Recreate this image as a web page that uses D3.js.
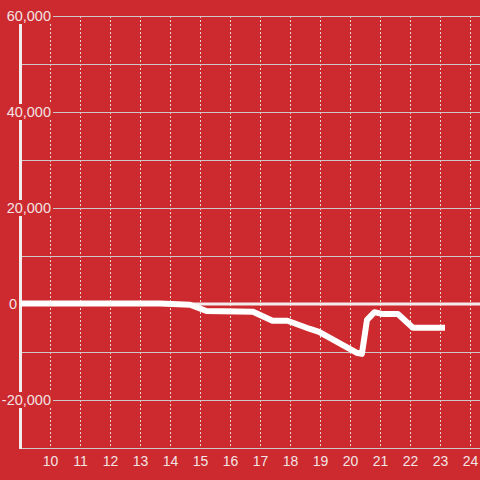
<!DOCTYPE html>
<html><head><meta charset="utf-8">
<script src="https://cdn.jsdelivr.net/npm/d3@7"></script>
<style>html,body{margin:0;padding:0;background:#cc2a2f;}svg{display:block;}</style>
</head><body>
<svg id="c" width="480" height="480"></svg>
<script>
const xValues = [9.0, 13.65, 14.65, 15.2, 16.75, 17.4, 17.9, 18.65, 18.95, 20.2, 20.38, 20.55, 20.8, 21.08, 21.58, 22.08, 23.15];
const yValues = [100, 100, -150, -1450, -1600, -3500, -3500, -5200, -5800, -10150, -10400, -3300, -1700, -2100, -2100, -4950, -4950];
const xTicks = [10, 11, 12, 13, 14, 15, 16, 17, 18, 19, 20, 21, 22, 23, 24];
const yGrid = [-30000, -20000, -10000, 0, 10000, 20000, 30000, 40000, 50000, 60000];
const yLabels = [-20000, 0, 20000, 40000, 60000];

const svg = d3.select("#c");
const bg = "#cc2a2f";
const txt = "#f3e4e4";
svg.append("rect").attr("width",480).attr("height",480).attr("fill",bg);

const x = d3.scaleLinear().domain([9, 24.3167]).range([20.5, 480]);
const y = d3.scaleLinear().domain([-30000, 60000]).range([448, 16]);

// vertical dashed grid
svg.append("g").selectAll("line").data(xTicks).join("line")
  .attr("x1", d => Math.round(x(d)) + 0.5).attr("x2", d => Math.round(x(d)) + 0.5)
  .attr("y1", 16).attr("y2", 448)
  .attr("stroke", "#e6d6d6").attr("stroke-width", 1).attr("stroke-dasharray", "2,2");

// horizontal grid
svg.append("g").selectAll("line").data(yGrid.filter(d => d !== 0)).join("line")
  .attr("x1", 20).attr("x2", 480)
  .attr("y1", d => Math.round(y(d)) + 0.5).attr("y2", d => Math.round(y(d)) + 0.5)
  .attr("stroke", "#cfc6c6").attr("stroke-width", 1);

// y axis line
svg.append("line").attr("x1", 20.5).attr("x2", 20.5).attr("y1", 16).attr("y2", 449)
  .attr("stroke", "#f2ecec").attr("stroke-width", 3);

// zero line
svg.append("line").attr("x1", 20).attr("x2", 480).attr("y1", y(0)).attr("y2", y(0))
  .attr("stroke", "#f2ecec").attr("stroke-width", 3);

// data line
const line = d3.line().x((d,i) => x(xValues[i])).y((d,i) => y(yValues[i]));
svg.append("path").datum(yValues).attr("d", line)
  .attr("fill", "none").attr("stroke", "#ffffff").attr("stroke-width", 6)
  .attr("stroke-linejoin", "round");

// y labels with background
const yl = svg.append("g").selectAll("g").data(yLabels).join("g")
  .attr("transform", d => `translate(0,${y(d)})`);
yl.filter(d => d !== 0).append("rect").attr("x", 0).attr("y", -8).attr("width", 53).attr("height", 16).attr("fill", bg);
yl.append("text").attr("x", d => d === 0 ? 17 : 51).attr("dy", "0.35em")
  .attr("text-anchor", "end").attr("fill", txt)
  .attr("font-family", "Liberation Sans, Arial, sans-serif").attr("font-size", 14.5)
  .text(d => d3.format(",")(d).replace("−", "-"));

// x labels
svg.append("g").selectAll("text").data(xTicks).join("text")
  .attr("x", d => x(d)).attr("y", 461).attr("dy", "0.35em")
  .attr("text-anchor", "middle").attr("fill", txt)
  .attr("font-family", "Liberation Sans, Arial, sans-serif").attr("font-size", 14)
  .text(d => d);
</script>
</body></html>
